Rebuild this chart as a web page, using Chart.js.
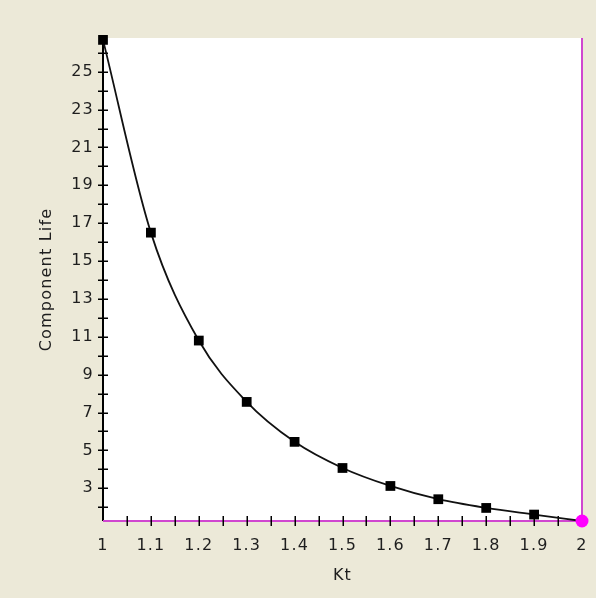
<!DOCTYPE html>
<html>
<head>
<meta charset="utf-8">
<script src="https://cdn.jsdelivr.net/npm/chart.js@4/dist/chart.umd.min.js"></script>
<style>
html,body{margin:0;padding:0;background:#ECE9D8;overflow:hidden;}
canvas{display:block;}
</style>
</head>
<body>
<canvas id="c" width="596" height="598"></canvas>
<script>
// ---- data ----
const kt = [1.0, 1.1, 1.2, 1.3, 1.4, 1.5, 1.6, 1.7, 1.8, 1.9, 2.0];
const componentLife = [26.68, 16.5, 10.8, 7.56, 5.45, 4.07, 3.12, 2.42, 1.96, 1.61, 1.27];
const yTickValues = [2,3,4,5,6,7,8,9,10,11,12,13,14,15,16,17,18,19,20,21,22,23,24,25,26];
const yLabelValues = [3,5,7,9,11,13,15,17,19,21,23,25];
const xTickValues = [1.0,1.05,1.1,1.15,1.2,1.25,1.3,1.35,1.4,1.45,1.5,1.55,1.6,1.65,1.7,1.75,1.8,1.85,1.9,1.95,2.0];
const xLabelValues = [1.0,1.1,1.2,1.3,1.4,1.5,1.6,1.7,1.8,1.9,2.0];
const xTitle = 'Kt';
const yTitle = 'Component Life';

const FONT = 'DejaVu Sans';
const TEXT = '#1e1e1e';
const MAGENTA = '#d046d0';

const decorPlugin = {
  id: 'decor',
  beforeDraw(chart) {
    const {ctx, chartArea: a} = chart;
    ctx.save();
    ctx.fillStyle = '#ffffff';
    ctx.fillRect(a.left, a.top, a.right - a.left, a.bottom - a.top);
    ctx.restore();
    ctx.letterSpacing = '1.2px';
  },
  beforeDatasetsDraw(chart) {
    const {ctx, chartArea: a, scales} = chart;
    const xs = scales.x, ys = scales.y;
    const lastX = xs.getPixelForValue(kt[kt.length - 1]);
    const lastY = ys.getPixelForValue(componentLife[componentLife.length - 1]);
    ctx.save();
    // y axis line
    ctx.strokeStyle = '#000';
    ctx.lineWidth = 2;
    ctx.beginPath();
    ctx.moveTo(a.left, a.top);
    ctx.lineTo(a.left, a.bottom);
    ctx.stroke();
    // magenta crosshair through the selected (last) point
    ctx.strokeStyle = MAGENTA;
    ctx.lineWidth = 2;
    ctx.beginPath();
    ctx.moveTo(a.left, lastY);
    ctx.lineTo(lastX, lastY);
    ctx.moveTo(lastX, a.top);
    ctx.lineTo(lastX, a.bottom);
    ctx.stroke();
    // y ticks
    ctx.strokeStyle = '#000';
    ctx.lineWidth = 1.5;
    ctx.beginPath();
    yTickValues.forEach(v => {
      const y = Math.round(ys.getPixelForValue(v)) + 0.25;
      ctx.moveTo(a.left - 5, y);
      ctx.lineTo(a.left + 5, y);
    });
    // x ticks
    xTickValues.forEach((v, i) => {
      if (i === 0 || i === xTickValues.length - 1) return;
      const x = Math.round(xs.getPixelForValue(v)) + 0.25;
      ctx.moveTo(x, a.bottom - 5);
      ctx.lineTo(x, a.bottom + 5);
    });
    ctx.stroke();
    ctx.restore();
  }
};

const n = kt.length;
new Chart(document.getElementById('c'), {
  type: 'line',
  data: {
    datasets: [{
      data: kt.map((x, i) => ({x, y: componentLife[i]})),
      borderColor: '#111',
      borderWidth: 1.8,
      cubicInterpolationMode: 'monotone',
      pointStyle: kt.map((x, i) => i === n - 1 ? 'circle' : 'rect'),
      pointRadius: kt.map((x, i) => i === n - 1 ? 6.5 : 6.9),
      pointBackgroundColor: kt.map((x, i) => i === n - 1 ? '#ff00ff' : '#000'),
      pointBorderColor: kt.map((x, i) => i === n - 1 ? '#ff00ff' : '#000'),
      pointBorderWidth: 0,
      clip: false,
      fill: false
    }]
  },
  options: {
    responsive: false,
    animation: false,
    events: [],
    layout: {padding: {top: 38, right: 14, bottom: 0, left: 0}},
    plugins: {legend: {display: false}, tooltip: {enabled: false}},
    scales: {
      x: {
        type: 'linear',
        min: 1, max: 2,
        border: {display: false},
        grid: {display: false, drawTicks: true, tickLength: 8},
        afterBuildTicks: s => { s.ticks = xTickValues.map(v => ({value: v})); },
        afterFit: s => { s.height = 77; s.paddingLeft = 0; s.paddingRight = 0; },
        ticks: {
          autoSkip: false,
          maxRotation: 0,
          padding: 7,
          color: TEXT,
          font: {family: FONT, size: 16},
          callback: v => xLabelValues.some(t => Math.abs(t - v) < 1e-6) ? String(Number(v.toFixed(1))) : ''
        },
        title: {display: true, text: xTitle, color: TEXT, font: {family: FONT, size: 16}, padding: {top: 0, bottom: 13}}
      },
      y: {
        type: 'linear',
        min: 1.27, max: 26.78,
        border: {display: false},
        grid: {display: false, drawTicks: true, tickLength: 5},
        afterBuildTicks: s => { s.ticks = yTickValues.map(v => ({value: v})); },
        afterFit: s => { s.width = 103; },
        ticks: {
          autoSkip: false,
          padding: 4,
          color: TEXT,
          font: {family: FONT, size: 16},
          callback: v => yLabelValues.includes(v) ? String(v) : ''
        },
        title: {display: true, text: yTitle, color: TEXT, font: {family: FONT, size: 16}, padding: {top: 37, bottom: 0}}
      }
    }
  },
  plugins: [decorPlugin]
});
</script>
</body>
</html>
